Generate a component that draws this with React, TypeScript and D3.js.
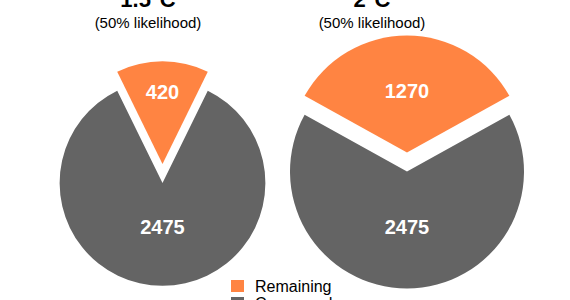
import React from "react";
import * as d3 from "d3";

// ---- data ----
const scenarios = ["1.5°C", "2°C"];
const subtitles = ["(50% likelihood)", "(50% likelihood)"];
const seriesNames = ["Remaining", "Consumed"];
const remaining = [420, 1270];
const consumed = [2475, 2475];
const colors = ["#FF8442", "#646464"];

// ---- layout ----
const W = 570;
const H = 300;
const centers = [
  { x: 162.5, y: 183 },
  { x: 407, y: 171.5 },
];
const titleX = [148, 372];
const explode = 19;
const labelFrac = [
  [0.7, 0.425],
  [0.53, 0.473],
];
const font = "'Liberation Sans', Arial, Helvetica, sans-serif";

export default function App() {
  const totals = remaining.map((r, i) => r + consumed[i]);
  const rScale = d3.scaleSqrt().domain([0, d3.max(totals) as number]).range([0, 117]);

  return (
    <svg
      width={W}
      height={H}
      style={{ position: "absolute", left: 0, top: 0, background: "#fff" }}
      fontFamily={font}
    >
      {scenarios.map((name, i) => {
        const values = [remaining[i], consumed[i]];
        const total = totals[i];
        const r = rScale(total);
        const start = -(remaining[i] / total) * Math.PI;
        const arcs = d3
          .pie<number>()
          .sort(null)
          .value((d) => d)
          .startAngle(start)
          .endAngle(start + 2 * Math.PI)(values);
        const arcGen = d3.arc<d3.PieArcDatum<number>>().innerRadius(0).outerRadius(r);
        const c = centers[i];
        return (
          <g key={name}>
            <text
              x={titleX[i]}
              y={7}
              textAnchor="middle"
              fontWeight="bold"
              fontSize={22}
              fill="#000"
            >
              {name}
            </text>
            <text x={titleX[i]} y={28} textAnchor="middle" fontSize={15} fill="#000">
              {subtitles[i]}
            </text>
            <g transform={`translate(${c.x},${c.y})`}>
              {arcs.map((a, j) => {
                const mid = (a.startAngle + a.endAngle) / 2;
                const off = j === 0 ? explode : 0;
                const dx = Math.sin(mid) * off;
                const dy = -Math.cos(mid) * off;
                const lr = labelFrac[i][j] * r;
                const lab = d3
                  .arc<d3.PieArcDatum<number>>()
                  .innerRadius(lr)
                  .outerRadius(lr)
                  .centroid(a);
                return (
                  <g key={j} transform={`translate(${dx},${dy})`}>
                    <path d={arcGen(a) as string} fill={colors[j]} />
                    <text
                      x={lab[0]}
                      y={lab[1]}
                      dy="0.36em"
                      textAnchor="middle"
                      fontWeight="bold"
                      fontSize={20}
                      fill="#fff"
                    >
                      {values[j]}
                    </text>
                  </g>
                );
              })}
            </g>
          </g>
        );
      })}
      {seriesNames.map((s, k) => (
        <g key={s} transform={`translate(231,${280 + k * 17})`}>
          <rect width={13} height={12} fill={colors[k]} />
          <text x={24} y={12} fontSize={16} fill="#000">
            {s}
          </text>
        </g>
      ))}
    </svg>
  );
}
